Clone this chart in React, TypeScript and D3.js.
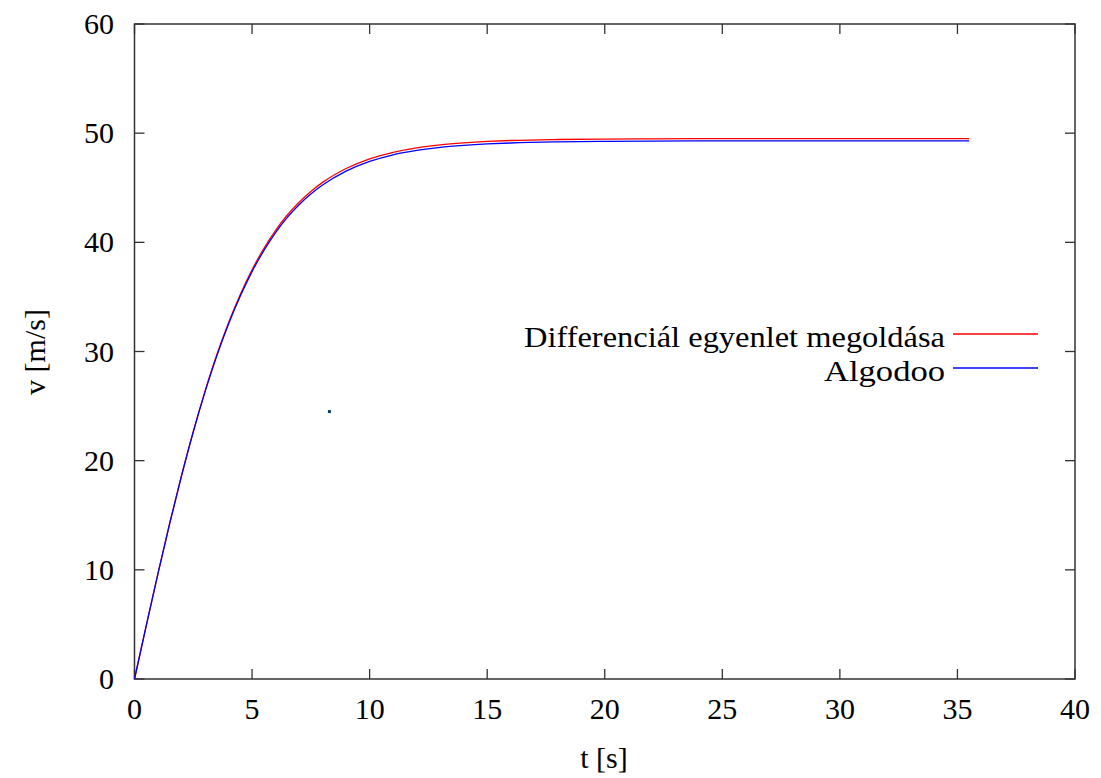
import React from "react";
import * as d3 from "d3";

const tRed = [0, 0.5, 1, 1.5, 2, 2.5, 3, 3.5, 4, 4.5, 5, 5.5, 6, 6.5, 7, 7.5, 8, 9, 10, 11, 12, 13, 14, 15, 16, 18, 20, 22, 25, 30, 35.5];
const vRed = [0, 4.89, 9.68, 14.29, 18.64, 22.69, 26.37, 29.7, 32.64, 35.23, 37.49, 39.43, 41.1, 42.5, 43.67, 44.66, 45.49, 46.76, 47.65, 48.25, 48.66, 48.93, 49.11, 49.24, 49.33, 49.42, 49.46, 49.48, 49.5, 49.5, 49.5];
const tBlue = [0, 0.5, 1, 1.5, 2, 2.5, 3, 3.5, 4, 4.5, 5, 5.5, 6, 6.5, 7, 7.5, 8, 9, 10, 11, 12, 13, 14, 15, 16, 18, 20, 22, 25, 30, 35.5];
const vBlue = [0, 4.89, 9.67, 14.27, 18.6, 22.63, 26.3, 29.6, 32.52, 35.08, 37.32, 39.24, 40.9, 42.29, 43.45, 44.43, 45.25, 46.52, 47.41, 48.02, 48.42, 48.7, 48.88, 49.01, 49.1, 49.2, 49.25, 49.28, 49.3, 49.3, 49.3];
const strayPoint = [{ t: 8.29, v: 24.5 }];

const xTicks = [0, 5, 10, 15, 20, 25, 30, 35, 40];
const yTicks = [0, 10, 20, 30, 40, 50, 60];
const seriesNames = ["Differenciál egyenlet megoldása", "Algodoo"];
const seriesColors = ["#ff0000", "#0000ff"];
const legendTextWidths = [421, 121];
const xTitle = "t [s]";
const yTitle = "v [m/s]";

export default function App() {
  const W = 1101, H = 778;
  const left = 134.5, right = 1075, top = 24, bottom = 679;
  const x = d3.scaleLinear().domain([0, 40]).range([left, right]);
  const y = d3.scaleLinear().domain([0, 60]).range([bottom, top]);
  const line = d3.line<[number, number]>().x(d => x(d[0])).y(d => y(d[1])).curve(d3.curveMonotoneX);
  const red = tRed.map((t, i) => [t, vRed[i]] as [number, number]);
  const blue = tBlue.map((t, i) => [t, vBlue[i]] as [number, number]);
  const font = "'Liberation Serif', 'Times New Roman', serif";
  const fs = 30;
  const tl = 10;
  const axisColor = "#333";
  return (
    <svg width={W} height={H} style={{ position: "absolute", left: 0, top: 0, background: "#fff" }} fontFamily={font}>
      <rect x={0} y={0} width={W} height={H} fill="#fff" />
      {xTicks.map(t => (
        <g key={"x" + t}>
          <line x1={x(t)} x2={x(t)} y1={bottom} y2={bottom - tl} stroke={axisColor} strokeWidth={1.3} />
          <line x1={x(t)} x2={x(t)} y1={top} y2={top + tl} stroke={axisColor} strokeWidth={1.3} />
          <text x={x(t)} y={bottom + 40} textAnchor="middle" fontSize={fs} fill="#000">{t}</text>
        </g>
      ))}
      {yTicks.map(v => (
        <g key={"y" + v}>
          <line x1={left} x2={left + tl} y1={y(v)} y2={y(v)} stroke={axisColor} strokeWidth={1.3} />
          <line x1={right} x2={right - tl} y1={y(v)} y2={y(v)} stroke={axisColor} strokeWidth={1.3} />
          <text x={114} y={y(v) + 10} textAnchor="end" fontSize={fs} fill="#000">{v}</text>
        </g>
      ))}
      <rect x={left} y={top} width={right - left} height={bottom - top} fill="none" stroke={axisColor} strokeWidth={1.5} />
      <path d={line(red) || ""} fill="none" stroke={seriesColors[0]} strokeWidth={1.3} />
      <path d={line(blue) || ""} fill="none" stroke={seriesColors[1]} strokeWidth={1.3} />
      {strayPoint.map((p, i) => (
        <rect key={i} x={x(p.t) - 1.5} y={y(p.v) - 1.5} width={3} height={3} fill="#0b3d63" />
      ))}
      {seriesNames.map((n, i) => (
        <g key={n}>
          <text x={945} y={334 + i * 34 + 13} textAnchor="end" fontSize={fs} fill="#000"
            textLength={legendTextWidths[i]} lengthAdjust="spacingAndGlyphs">{n}</text>
          <line x1={953} x2={1038} y1={334 + i * 34} y2={334 + i * 34} stroke={seriesColors[i]} strokeWidth={1.3} />
        </g>
      ))}
      <text x={604} y={768} textAnchor="middle" fontSize={fs} fill="#000">{xTitle}</text>
      <text transform={`translate(45,352) rotate(-90)`} textAnchor="middle" fontSize={fs} fill="#000">{yTitle}</text>
    </svg>
  );
}
